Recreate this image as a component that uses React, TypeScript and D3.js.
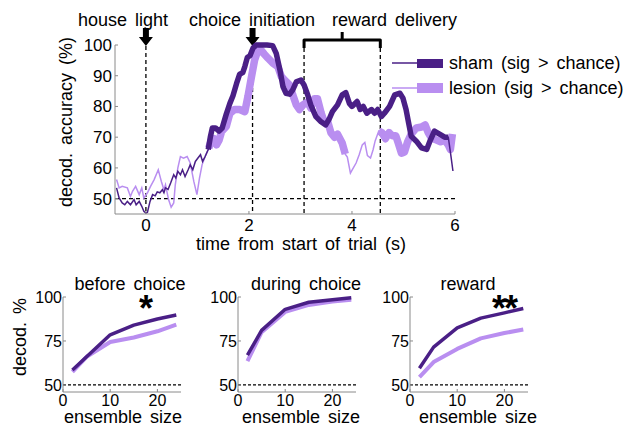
import React from "react";
import * as d3 from "d3";

// ---- Time-resolved decoding accuracy (%) ----
const shamT = [-0.57, -0.52, -0.46, -0.41, -0.36, -0.3, -0.23, -0.19, -0.13, -0.08, -0.04, 0, 0.03, 0.08, 0.13, 0.18, 0.22, 0.27, 0.32, 0.35, 0.38, 0.43, 0.48, 0.54, 0.58, 0.62, 0.67, 0.71, 0.76, 0.82, 0.86, 0.91, 0.96, 1.01, 1.06, 1.1, 1.15, 1.21, 1.25, 1.29, 1.35, 1.42, 1.48, 1.56, 1.63, 1.69, 1.76, 1.82, 1.88, 1.92, 1.97, 2.02, 2.08, 2.14, 2.25, 2.35, 2.46, 2.53, 2.6, 2.66, 2.72, 2.79, 2.85, 2.92, 3.01, 3.07, 3.14, 3.2, 3.3, 3.4, 3.49, 3.56, 3.62, 3.72, 3.81, 3.88, 3.95, 4.0, 4.1, 4.16, 4.22, 4.29, 4.38, 4.44, 4.5, 4.57, 4.63, 4.73, 4.83, 4.93, 4.99, 5.05, 5.1, 5.15, 5.25, 5.35, 5.45, 5.52, 5.6, 5.7, 5.8, 5.87, 5.92, 5.96];
const shamV = [53.5, 50.2, 48.6, 48, 49.1, 48, 49.7, 48, 49.1, 47.5, 45.9, 45.3, 45.6, 49.1, 51.3, 50.9, 52.2, 51.9, 52.9, 51.9, 53.5, 53, 55.1, 57.8, 56.7, 58.9, 57.8, 59.4, 57.2, 59.4, 61, 59.4, 62.1, 63.2, 64.3, 62.1, 63.7, 66, 70, 73, 73, 72, 73, 77.5, 81, 83.5, 87.5, 90.5, 91, 93, 96, 96.5, 99, 100, 100, 100, 99.8, 97.3, 92, 86.5, 84.3, 84, 85.4, 88, 88.6, 87, 83.8, 80.5, 76.7, 75, 74, 76, 78.3, 80.5, 83.8, 84.5, 81, 80, 81.6, 79, 80, 77.8, 79, 77.8, 79, 76.7, 77.8, 80, 83.8, 84.3, 82.7, 79, 74.6, 70.3, 68.7, 66.5, 66, 69, 72, 71, 70, 70, 64, 59];
const shamSig: [number, number][] = [[1.2, 5.87]];

const lesionT = [-0.57, -0.52, -0.46, -0.36, -0.3, -0.26, -0.2, -0.13, -0.08, -0.04, 0.03, 0.09, 0.16, 0.24, 0.3, 0.35, 0.38, 0.44, 0.49, 0.54, 0.57, 0.62, 0.67, 0.73, 0.8, 0.86, 0.93, 0.99, 1.04, 1.09, 1.15, 1.22, 1.27, 1.32, 1.37, 1.42, 1.47, 1.56, 1.63, 1.72, 1.82, 1.92, 1.98, 2.05, 2.11, 2.17, 2.24, 2.3, 2.37, 2.47, 2.56, 2.63, 2.72, 2.79, 2.85, 2.92, 2.98, 3.05, 3.14, 3.2, 3.27, 3.33, 3.4, 3.46, 3.53, 3.59, 3.66, 3.72, 3.81, 3.87, 3.91, 3.97, 4.01, 4.08, 4.14, 4.2, 4.25, 4.3, 4.36, 4.41, 4.45, 4.52, 4.58, 4.65, 4.72, 4.78, 4.85, 4.9, 4.96, 5.02, 5.08, 5.15, 5.25, 5.35, 5.42, 5.48, 5.54, 5.62, 5.72, 5.8, 5.87, 5.91, 5.95];
const lesionV = [56.2, 53.5, 54, 53.5, 50.7, 52.4, 54, 51.3, 53.5, 50.2, 51.9, 54, 56.2, 59.4, 55.6, 52.9, 54.5, 49.7, 47.2, 48.6, 54.5, 60, 63.7, 63.2, 63.7, 61.6, 55.6, 51.3, 56.7, 61, 63.7, 66.5, 69, 69.5, 67.5, 69, 71.9, 73.5, 77.8, 79, 79, 78.3, 83.2, 89.7, 95.1, 98, 98.2, 97, 95.7, 94, 93, 89.7, 88.1, 87, 83.8, 80.5, 79, 80.5, 81.5, 79.5, 82.5, 82.5, 78, 75, 75, 71.5, 70, 71, 68.1, 64.5, 63.5, 58.3, 59.5, 61.6, 64.3, 67.5, 68.3, 64, 63.2, 65.9, 68.8, 72, 71.5, 69.5, 71.5, 70.5, 70.5, 68, 64.8, 65.2, 68.5, 71, 73, 73.3, 74, 71.5, 69.8, 69.2, 68.5, 69, 67.5, 66, 71];
const lesionSig: [number, number][] = [[1.2, 3.88], [4.48, 6]];

const timeTicks = [0, 2, 4, 6];
const accTicks = [50, 60, 70, 80, 90, 100];
const chanceLevel = 50;
const houseLightT = 0;
const choiceT = 2.07;
const rewardWindow: [number, number] = [3.07, 4.55];

// ---- Decoding vs. ensemble size ----
const ensembleSizes = [2, 5, 10, 15, 20, 24];
const panelTitles = ["before choice", "during choice", "reward"];
const panelStars = ["*", "", "**"];
const shamByPanel = [
  [58.5, 66, 78.5, 84, 87.5, 89.8],
  [67, 81, 93, 97, 98.5, 99.6],
  [59.5, 71.5, 82.5, 88, 91, 93.5],
];
const lesionByPanel = [
  [57.5, 66, 74.4, 77, 80.5, 84.3],
  [63.5, 80, 91.5, 95.5, 97.5, 98.5],
  [54.5, 63, 70.5, 76.5, 79.5, 81.5],
];
const sizeTicks = [0, 10, 20];
const smallAccTicks = [50, 75, 100];

const DARK = "#4a1f86";
const LIGHT = "#b98ef0";
const AXIS = "#8a8a8a";
const FONT = "'Liberation Sans', Arial, sans-serif";

type Pt = { t: number; v: number };

function toPts(ts: number[], vs: number[]): Pt[] {
  return ts.map((t, i) => ({ t, v: vs[i] }));
}

function segments(pts: Pt[], wins: [number, number][]): Pt[][] {
  return wins.map(([a, b]) => pts.filter((p) => p.t >= a && p.t <= b));
}

function DownArrow({ cx, top, bottom }: { cx: number; top: number; bottom: number }) {
  const headH = 9;
  const p = `M${cx - 3},${top} H${cx + 3} V${bottom - headH} H${cx + 7} L${cx},${bottom} L${cx - 7},${bottom - headH} H${cx - 3} Z`;
  return <path d={p} fill="#000" />;
}

function SmallPanel({ idx, x0 }: { idx: number; x0: number }) {
  const sx = d3.scaleLinear().domain([0, 25]).range([x0, x0 + 118]);
  const sy = d3.scaleLinear().domain([46, 100]).range([392, 297]);
  const line = d3
    .line<number>()
    .x((_, i) => sx(ensembleSizes[i]))
    .y((d) => sy(d));
  const titleX = [130, 306, 468][idx];
  const labelX = [123, 301, 478][idx];
  const starX = [145, 305, 504][idx];
  return (
    <g fontFamily={FONT}>
      <text x={titleX} y={290} fontSize={18} textAnchor="middle" wordSpacing={3}>
        {panelTitles[idx]}
      </text>
      {panelStars[idx] && (
        <text x={starX} y={321} fontSize={36} fontWeight="bold" textAnchor="middle" letterSpacing={-2}>
          {panelStars[idx]}
        </text>
      )}
      <line x1={sx(0)} x2={sx(25)} y1={sy(chanceLevel)} y2={sy(chanceLevel)} stroke="#000" strokeWidth={1.2} strokeDasharray="3 2" />
      <path d={line(lesionByPanel[idx]) || ""} fill="none" stroke={LIGHT} strokeWidth={4} strokeLinejoin="round" />
      <path d={line(shamByPanel[idx]) || ""} fill="none" stroke={DARK} strokeWidth={3.5} strokeLinejoin="round" />
      <line x1={sx(0)} x2={sx(0)} y1={sy(100)} y2={sy(46)} stroke={AXIS} strokeWidth={1} />
      <line x1={sx(0)} x2={sx(25)} y1={sy(46)} y2={sy(46)} stroke={AXIS} strokeWidth={1} />
      {smallAccTicks.map((v) => (
        <g key={v}>
          <line x1={sx(0)} x2={sx(0) + 3} y1={sy(v)} y2={sy(v)} stroke={AXIS} />
          <text x={sx(0) - 1} y={sy(v) + 6} fontSize={16} textAnchor="end">
            {v}
          </text>
        </g>
      ))}
      {sizeTicks.map((v) => (
        <g key={v}>
          <line x1={sx(v)} x2={sx(v)} y1={sy(46)} y2={sy(46) - 3} stroke={AXIS} />
          <text x={sx(v)} y={406} fontSize={16} textAnchor="middle">
            {v}
          </text>
        </g>
      ))}
      <text x={labelX} y={423} fontSize={18} textAnchor="middle" wordSpacing={3}>
        ensemble size
      </text>
    </g>
  );
}

export default function App() {
  const x = d3.scaleLinear().domain([-0.6, 6]).range([115, 455]);
  const y = d3.scaleLinear().domain([45, 100]).range([214, 45]);
  const line = d3
    .line<Pt>()
    .x((d) => x(d.t))
    .y((d) => y(d.v));

  const sham = toPts(shamT, shamV);
  const lesion = toPts(lesionT, lesionV);
  const x0 = x(-0.6);
  const x1 = x(6);

  return (
    <svg width={639} height={428} style={{ position: "absolute", left: 0, top: 0, background: "#fff" }} fontFamily={FONT}>
      {/* event labels */}
      <text x={123} y={26} fontSize={18} textAnchor="middle" wordSpacing={3}>house light</text>
      <text x={252} y={26} fontSize={18} textAnchor="middle" wordSpacing={3}>choice initiation</text>
      <text x={332} y={26} fontSize={18} wordSpacing={3}>reward delivery</text>
      <DownArrow cx={x(houseLightT)} top={28} bottom={46} />
      <DownArrow cx={x(choiceT)} top={28} bottom={46} />
      <path
        d={`M${x(rewardWindow[0])},48 V40 H${x(rewardWindow[1])} V48 M${(x(rewardWindow[0]) + x(rewardWindow[1])) / 2},40 V32`}
        fill="none"
        stroke="#000"
        strokeWidth={3}
        strokeLinejoin="round"
      />

      {/* reference lines */}
      <g stroke="#000" strokeWidth={1.3} strokeDasharray="4 3">
        <line x1={x0} x2={x1} y1={y(chanceLevel)} y2={y(chanceLevel)} />
        <line x1={x(houseLightT)} x2={x(houseLightT)} y1={46} y2={214} />
        <line x1={x(choiceT)} x2={x(choiceT)} y1={46} y2={214} />
        <line x1={x(rewardWindow[0])} x2={x(rewardWindow[0])} y1={48} y2={214} />
        <line x1={x(rewardWindow[1])} x2={x(rewardWindow[1])} y1={48} y2={214} />
      </g>

      {/* decoding traces: thin = not significant, thick = significantly above chance */}
      <path d={line(lesion) || ""} fill="none" stroke={LIGHT} strokeWidth={1.5} />
      {segments(lesion, lesionSig).map((s, i) => (
        <path key={"l" + i} d={line(s) || ""} fill="none" stroke={LIGHT} strokeWidth={7.5} strokeLinejoin="round" />
      ))}
      <path d={line(sham) || ""} fill="none" stroke={DARK} strokeWidth={1.5} />
      {segments(sham, shamSig).map((s, i) => (
        <path key={"s" + i} d={line(s) || ""} fill="none" stroke={DARK} strokeWidth={5.5} strokeLinejoin="round" />
      ))}

      {/* axes */}
      <line x1={x0} x2={x0} y1={y(100)} y2={y(45)} stroke={AXIS} />
      <line x1={x0} x2={x1} y1={y(45)} y2={y(45)} stroke={AXIS} />
      {accTicks.map((v) => (
        <g key={v}>
          <line x1={x0} x2={x0 + 3} y1={y(v)} y2={y(v)} stroke={AXIS} />
          <text x={x0 - 3} y={y(v) + 6} fontSize={17} textAnchor="end">{v}</text>
        </g>
      ))}
      {timeTicks.map((t) => (
        <g key={t}>
          <line x1={x(t)} x2={x(t)} y1={y(45)} y2={y(45) - 3} stroke={AXIS} />
          <text x={x(t)} y={231} fontSize={17} textAnchor="middle">{t}</text>
        </g>
      ))}
      <text x={301} y={250} fontSize={18} textAnchor="middle" wordSpacing={3}>time from start of trial (s)</text>
      <text transform="translate(72,122) rotate(-90)" fontSize={18} textAnchor="middle" wordSpacing={3}>decod. accuracy (%)</text>

      {/* legend */}
      <line x1={392} x2={417} y1={63} y2={63} stroke={DARK} strokeWidth={1.5} />
      <rect x={417} y={59} width={26} height={9} fill={DARK} />
      <text x={449} y={69} fontSize={18} wordSpacing={3}>sham (sig &gt; chance)</text>
      <line x1={392} x2={417} y1={88} y2={88} stroke={LIGHT} strokeWidth={1.5} />
      <rect x={417} y={83} width={26} height={10} fill={LIGHT} />
      <text x={449} y={94} fontSize={18} wordSpacing={3}>lesion (sig &gt; chance)</text>

      {/* ensemble-size panels */}
      <SmallPanel idx={0} x0={63} />
      <SmallPanel idx={1} x0={238} />
      <SmallPanel idx={2} x0={410} />
      <text transform="translate(26,337) rotate(-90)" fontSize={18} textAnchor="middle" wordSpacing={3}>decod. %</text>
    </svg>
  );
}
